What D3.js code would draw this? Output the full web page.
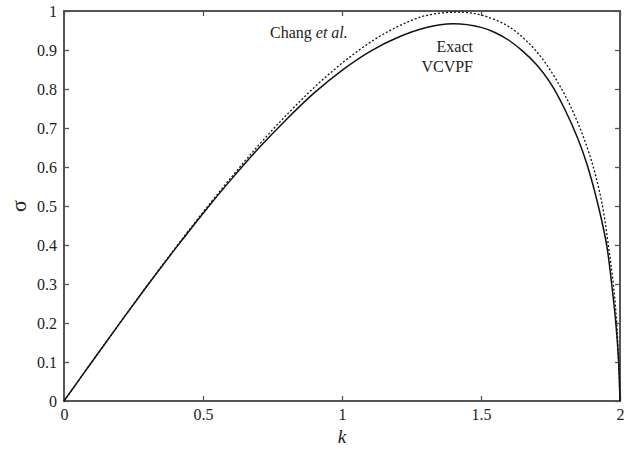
<!DOCTYPE html>
<html>
<head>
<meta charset="utf-8">
<script src="https://cdn.jsdelivr.net/npm/d3@7"></script>
<style>
  html, body { margin: 0; padding: 0; background: #fff; }
  svg { display: block; }
</style>
</head>
<body>
<svg id="chart" width="637" height="453"></svg>
<script>
// Growth rate sigma against wavenumber k
const kChang = [0, 0.1, 0.2, 0.3, 0.4, 0.5, 0.6, 0.7, 0.8, 0.9, 1.0, 1.1, 1.2, 1.3, 1.4, 1.45, 1.5, 1.6, 1.7, 1.79, 1.856, 1.904, 1.937, 1.958, 1.976, 1.99, 2.0];
const sigmaChang = [0, 0.100, 0.199, 0.297, 0.392, 0.484, 0.572, 0.656, 0.733, 0.804, 0.866, 0.919, 0.960, 0.988, 0.997, 0.996, 0.990, 0.960, 0.896, 0.800, 0.700, 0.600, 0.500, 0.400, 0.300, 0.180, 0];

const kExact = [0, 0.1, 0.2, 0.3, 0.4, 0.5, 0.6, 0.7, 0.8, 0.9, 1.0, 1.1, 1.2, 1.3, 1.4, 1.5, 1.55, 1.6, 1.65, 1.7, 1.75, 1.8, 1.85, 1.882, 1.922, 1.952, 1.970, 1.985, 1.995, 2.0];
const sigmaExact = [0, 0.100, 0.199, 0.296, 0.390, 0.481, 0.567, 0.648, 0.722, 0.790, 0.848, 0.896, 0.932, 0.957, 0.967, 0.958, 0.945, 0.925, 0.897, 0.862, 0.815, 0.750, 0.670, 0.605, 0.500, 0.400, 0.300, 0.200, 0.100, 0];

const xTicks = [0, 0.5, 1, 1.5, 2];
const yTicks = [0, 0.1, 0.2, 0.3, 0.4, 0.5, 0.6, 0.7, 0.8, 0.9, 1];

const FONT = "'Liberation Serif', 'Times New Roman', 'DejaVu Serif', serif";

const svg = d3.select("#chart");
const m = { left: 64, right: 17, top: 11, bottom: 52 };
const W = 637, H = 453;
const x = d3.scaleLinear().domain([0, 2]).range([m.left, W - m.right]);
const y = d3.scaleLinear().domain([0, 1]).range([H - m.bottom, m.top]);

const tickLen = 5;
const frameColor = "#555";

// inward ticks on all four sides
const fmt = d => d3.format("")(d);
svg.append("g").attr("transform", `translate(0,${y(0)})`)
  .call(d3.axisBottom(x).tickValues(xTicks).tickSize(-tickLen).tickPadding(8).tickFormat(fmt))
  .call(g => g.select(".domain").remove());
svg.append("g").attr("transform", `translate(0,${y(1)})`)
  .call(d3.axisTop(x).tickValues(xTicks).tickSize(-tickLen).tickFormat(""))
  .call(g => g.select(".domain").remove());
svg.append("g").attr("transform", `translate(${x(0)},0)`)
  .call(d3.axisLeft(y).tickValues(yTicks).tickSize(-tickLen).tickPadding(7).tickFormat(fmt))
  .call(g => g.select(".domain").remove());
svg.append("g").attr("transform", `translate(${x(2)},0)`)
  .call(d3.axisRight(y).tickValues(yTicks).tickSize(-tickLen).tickFormat(""))
  .call(g => g.select(".domain").remove());

svg.selectAll("g").attr("font-family", FONT);
svg.selectAll(".tick line").attr("stroke", frameColor).attr("stroke-width", 1.3);
svg.selectAll(".tick text").attr("font-size", 16).attr("font-family", FONT).attr("fill", "#222");

// frame
svg.append("rect")
  .attr("x", x(0)).attr("y", y(1))
  .attr("width", x(2) - x(0)).attr("height", y(0) - y(1))
  .attr("fill", "none").attr("stroke", frameColor).attr("stroke-width", 2);

const line = d3.line().x(d => x(d[0])).y(d => y(d[1])).curve(d3.curveCatmullRom.alpha(0.5));

svg.append("path")
  .datum(kChang.map((k, i) => [k, sigmaChang[i]]))
  .attr("d", line)
  .attr("fill", "none").attr("stroke", "#111").attr("stroke-width", 1.3)
  .attr("stroke-dasharray", "2,2");

svg.append("path")
  .datum(kExact.map((k, i) => [k, sigmaExact[i]]))
  .attr("d", line)
  .attr("fill", "none").attr("stroke", "#111").attr("stroke-width", 1.5);

// curve labels
const txt = (xx, yy, size) => svg.append("text").attr("x", xx).attr("y", yy)
  .attr("font-family", FONT).attr("font-size", size).attr("fill", "#222");

const lab1 = txt(270, 38, 16);
lab1.append("tspan").text("Chang ");
lab1.append("tspan").attr("font-style", "italic").text("et al.");

txt(473, 52, 16).attr("text-anchor", "end").text("Exact");
txt(473, 72, 16).attr("text-anchor", "end").text("VCVPF");

// axis titles
txt(x(1), 443, 19).attr("text-anchor", "middle").attr("font-style", "italic").text("k");
txt(0, 0, 22).attr("transform", `translate(26,${y(0.5)}) rotate(-90)`)
  .attr("text-anchor", "middle").text("σ");
</script>
</body>
</html>
